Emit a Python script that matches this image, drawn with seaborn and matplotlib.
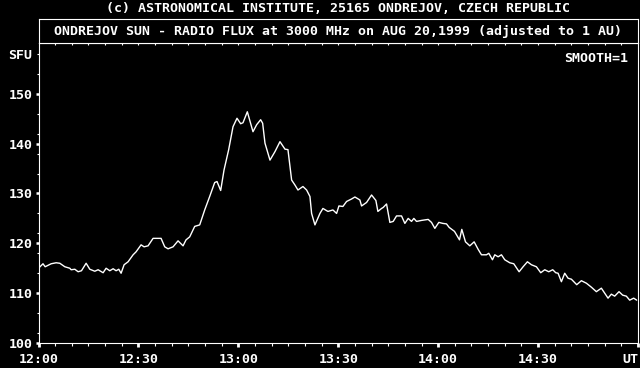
import numpy as np
import pandas as pd
import matplotlib
matplotlib.use("Agg")
import matplotlib.pyplot as plt
import seaborn as sns
from matplotlib.ticker import FixedLocator, FixedFormatter, NullFormatter, FuncFormatter

# ---- data (minutes after 12:00 UT, flux in SFU) ----
minutes = [0, 1.35, 2.0, 3.8, 5.3, 6.4, 7.9, 9.4, 9.8, 10.9, 11.9, 12.9, 14.3, 15.4,
           16.9, 17.9, 19.4, 20.3, 21.4, 22.4, 23.3, 24.1, 24.8, 25.7, 26.9, 28.4,
           29.3, 30.8, 31.7, 32.9, 34.4, 36.8, 37.9, 38.9, 40.4, 41.9, 43.4, 44.3,
           45.4, 46.9, 48.4, 49.9, 51.4, 52.9, 53.6, 54.7, 55.7, 57.1, 58.4, 59.6,
           60.7, 61.4, 62.7, 64.4, 65.5, 66.7, 67.3, 68.0, 69.5, 71.0, 72.5, 74.0,
           74.9, 76.0, 77.0, 77.9, 79.4, 80.5, 81.5, 82.0, 83.0, 84.5, 85.4, 86.9,
           88.4, 89.5, 90.2, 91.4, 92.5, 94.0, 95.0, 96.5, 97.0, 98.5, 100.0, 101.3,
           101.9, 103.0, 103.5, 104.5, 105.5, 106.5, 107.5, 109.0, 110.0, 111.0,
           112.0, 112.7, 113.5, 115.0, 117.0, 118.0, 119.0, 120.2, 121.4, 122.5,
           123.3, 124.9, 126.4, 127.1, 128.2, 129.5, 130.8, 132.0, 133.0, 134.5,
           135.2, 136.3, 137.0, 138.0, 139.0, 140.0, 141.5, 142.7, 144.3, 145.5,
           146.8, 148.0, 149.5, 150.8, 152.0, 153.2, 154.4, 155.3, 156.0, 157.0,
           158.0, 159.0, 160.0, 161.6, 163.0, 164.5, 166.0, 167.5, 169.0, 170.0,
           171.0, 172.0, 173.0, 174.3, 175.4, 176.5, 177.5, 178.7, 179.6]
flux = [115.0, 115.9, 115.3, 115.9, 116.1, 116.0, 115.3, 115.0, 114.7, 114.8, 114.3,
        114.5, 116.0, 114.8, 114.4, 114.7, 114.1, 115.0, 114.5, 114.9, 114.5, 114.8,
        114.0, 115.7, 116.3, 117.7, 118.3, 119.7, 119.3, 119.5, 121.0, 121.0, 119.3,
        118.9, 119.3, 120.5, 119.5, 120.7, 121.3, 123.4, 123.7, 126.7, 129.4, 132.2,
        132.4, 130.6, 134.7, 138.8, 143.4, 145.1, 144.0, 144.2, 146.4, 142.4, 143.8,
        144.8, 144.1, 140.1, 136.7, 138.4, 140.4, 138.9, 138.8, 132.7, 131.7, 130.7,
        131.4, 130.7, 129.4, 126.0, 123.7, 126.0, 127.0, 126.4, 126.7, 126.0, 127.5,
        127.4, 128.4, 128.9, 129.3, 128.7, 127.5, 128.2, 129.7, 128.6, 126.4, 127.0,
        127.2, 127.9, 124.2, 124.4, 125.5, 125.5, 124.0, 125.0, 124.4, 125.0, 124.4,
        124.6, 124.8, 124.2, 123.0, 124.2, 124.0, 123.9, 123.2, 122.4, 120.7, 122.8,
        120.3, 119.5, 120.3, 118.8, 117.7, 117.7, 118.0, 116.7, 117.7, 117.3, 117.7,
        116.7, 116.1, 115.9, 114.3, 115.3, 116.3, 115.7, 115.3, 114.1, 114.7, 114.3,
        114.7, 114.1, 114.0, 112.3, 114.0, 113.0, 112.8, 111.7, 112.5, 112.0, 111.2,
        110.3, 111.0, 110.0, 109.0, 109.8, 109.4, 110.3, 109.6, 109.4, 108.6, 109.0,
        108.6]
x_major = [0, 30, 60, 90, 120, 150, 180]
x_labels = ["12:00", "12:30", "13:00", "13:30", "14:00", "14:30", "UT"]
y_major = [100, 110, 120, 130, 140, 150]
y_minor = [102, 106, 114, 118, 122, 126, 134, 138, 142, 146, 154, 158]
unit_label = "SFU"
unit_pos = 158

copyright_txt = "(c) ASTRONOMICAL INSTITUTE, 25165 ONDREJOV, CZECH REPUBLIC"
title_txt = "ONDREJOV SUN - RADIO FLUX at 3000 MHz on AUG 20,1999 (adjusted to 1 AU)"
smooth_txt = "SMOOTH=1"

df = pd.DataFrame({"t": minutes, "sfu": flux})

sns.set_theme(style="ticks")
plt.rcParams["font.family"] = ["DejaVu Sans Mono"]
plt.rcParams["font.weight"] = "bold"
FS = 9.5
W, H = 640, 368

fig = plt.figure(figsize=(6.4, 3.68), dpi=100, facecolor="black")
L, R, T, B, TB = 38.5, 638, 43, 343, 19.3
ax = fig.add_axes([L / W, 1 - B / H, (R - L) / W, (B - T) / H], facecolor="black")
sns.lineplot(data=df, x="t", y="sfu", ax=ax, color="white", linewidth=1.0)
ax.set_xlim(0, 180)
ax.set_ylim(100, 160.2)
ax.set_xlabel("")
ax.set_ylabel("")
for s in ax.spines.values():
    s.set_color("white")
    s.set_linewidth(0.8)

ax.xaxis.set_major_locator(FixedLocator(x_major))
ax.xaxis.set_major_formatter(FixedFormatter(x_labels))
ax.xaxis.set_minor_locator(FixedLocator(list(range(0, 181, 5))))
ax.yaxis.set_major_locator(FixedLocator(y_major))
ax.yaxis.set_minor_locator(FixedLocator(y_minor))
ax.yaxis.set_minor_formatter(FuncFormatter(lambda v, p: unit_label if abs(v - unit_pos) < 0.01 else ""))

ax.tick_params(axis="x", which="major", direction="out", length=2.6, width=2.0,
               color="white", labelcolor="white", labelsize=FS, pad=4.5)
ax.tick_params(axis="x", which="minor", direction="out", length=2.2, width=0.8,
               color="white")
ax.tick_params(axis="y", which="major", direction="out", length=2.2, width=1.8,
               color="white", labelcolor="white", labelsize=FS, pad=2.2)
ax.tick_params(axis="y", which="minor", direction="out", length=1.5, width=0.8,
               color="white", labelcolor="white", labelsize=FS, pad=2.9)
ax.get_xticklabels()[-1].set_horizontalalignment("right")
for lab in ax.get_xticklabels() + ax.get_yticklabels() + ax.get_yticklabels(minor=True):
    lab.set_fontweight("bold")

ax.text((628 - L) / (R - L), (B - 58) / (B - T), smooth_txt, transform=ax.transAxes,
        ha="right", va="center", color="white", fontsize=FS, fontweight="bold")

# title box (its bottom ticks point down into the plot)
tb = fig.add_axes([L / W, 1 - T / H, (R - L) / W, (T - TB) / H], facecolor="black")
tb.set_xlim(0, 180)
tb.set_ylim(0, 1)
for s in tb.spines.values():
    s.set_color("white")
    s.set_linewidth(0.8)
tb.set_xticks([])
tb.xaxis.set_minor_locator(FixedLocator(list(range(5, 180, 5))))
tb.xaxis.set_minor_formatter(NullFormatter())
tb.tick_params(axis="x", which="minor", direction="out", length=1.5, width=0.8,
               color="white")
tb.set_yticks([])
tb.text(0.5, 0.5, title_txt, transform=tb.transAxes, ha="center", va="center",
        color="white", fontsize=FS, fontweight="bold")

fig.text(338 / W, 1 - 8.5 / H, copyright_txt, ha="center", va="center",
         color="white", fontsize=FS, fontweight="bold")

fig.savefig("out.png", dpi=100, facecolor="black")
